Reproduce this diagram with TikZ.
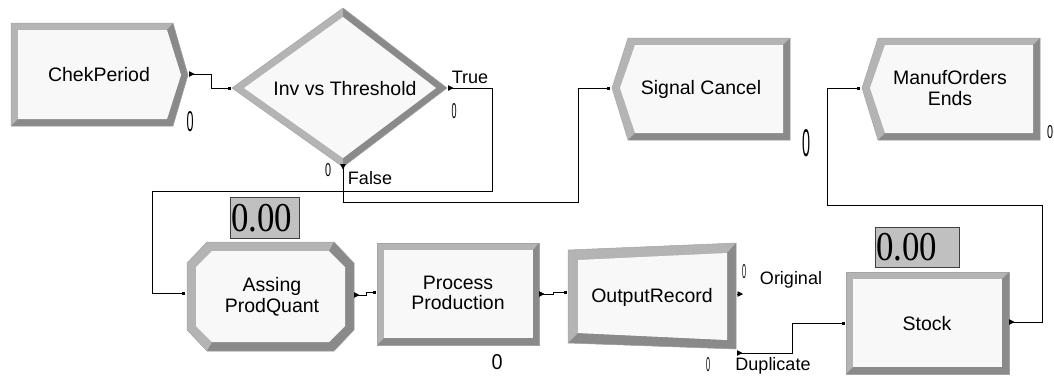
\documentclass[tikz,border=0pt]{standalone}
\usepackage{fontspec}
\usepackage{graphicx}
\setmainfont{Liberation Sans}
\newfontfamily\countfont{Liberation Serif}
\usetikzlibrary{arrows.meta}

\definecolor{bevlight}{HTML}{B4B4B4}
\definecolor{bevdark}{HTML}{8A8A8A}
\definecolor{modface}{HTML}{F8F8F8}
\definecolor{modrim}{HTML}{A4A4A4}
\definecolor{countfill}{HTML}{C0C0C0}
\definecolor{countrim}{HTML}{404040}

% #1 outer outline, #2 shaded (lower/right) bevel, #3 face
\newcommand\bevelmodule[3]{%
  \fill[bevlight] #1;
  \fill[bevdark] #2;
  \fill[modface] #3;
  \draw[modrim, line width=0.5pt] #1;
}
\newcommand\slimzero[2]{\resizebox{#1}{#2}{0}}

\begin{document}
\begin{tikzpicture}[x=1pt, y=-1pt,
  modtext/.style={font=\fontsize{19.5}{20.5}\selectfont, align=center, inner sep=0pt},
  porttext/.style={font=\fontsize{18}{18}\selectfont, inner sep=0pt},
  zerotext/.style={inner sep=0pt},
  conn/.style={line width=0.9pt, black,
    {Triangle[reversed, length=5.5pt, width=5.5pt]}-{Square[length=3pt, width=3pt]}},
  portarrow/.style={line width=0.9pt, black, -{Triangle[length=5.5pt, width=5.5pt]}},
  counterbox/.style={draw=countrim, fill=countfill, line width=0.8pt, inner sep=0pt},
  countertext/.style={font=\countfont\fontsize{41}{41}\selectfont, inner sep=0pt}
]
\useasboundingbox (0,0) rectangle (1054,376);

% ---- ChekPeriod (create) ----
\bevelmodule
  {(11,23) -- (173,23) -- (188,75) -- (173,126) -- (11,126) -- cycle}
  {(173,23) -- (188,75) -- (173,126) -- (11,126) -- (18,119) -- (167,119) -- (181,75) -- (167,30) -- cycle}
  {(18,30) -- (167,30) -- (181,75) -- (167,119) -- (18,119) -- cycle}
\node[modtext] (chek) at (99,75) {ChekPeriod};
\coordinate (chek-out) at (189,74);
\node[zerotext] (chek-count) at (190,122) {\slimzero{7pt}{20pt}};

% ---- Inv vs Threshold (decide) ----
\bevelmodule
  {(232,88) -- (343,8) -- (447,88) -- (343,167) -- cycle}
  {(343,8) -- (447,88) -- (343,167) -- (343,158) -- (436,88) -- (343,17) -- cycle}
  {(244,88) -- (343,17) -- (436,88) -- (343,158) -- cycle}
\node[modtext] (inv) at (345,89) {Inv vs Threshold};
\coordinate (inv-in) at (231,88);
\coordinate (inv-true) at (448,88);
\coordinate (inv-false) at (343,164);
\node[porttext] (true-lbl) at (470,77) {True};
\node[porttext] (false-lbl) at (370,178) {False};
\node[zerotext] (true-count) at (454,111) {\slimzero{5pt}{15pt}};
\node[zerotext] (false-count) at (328,170) {\slimzero{6pt}{13pt}};

% ---- Signal Cancel (dispose) ----
\bevelmodule
  {(612,88) -- (628,38) -- (790,38) -- (790,140) -- (628,140) -- cycle}
  {(790,38) -- (790,140) -- (628,140) -- (635,133) -- (783,133) -- (783,45) -- cycle}
  {(620,88) -- (635,45) -- (783,45) -- (783,133) -- (635,133) -- cycle}
\node[modtext] (sig) at (701,89) {Signal Cancel};
\coordinate (sig-in) at (610,88);
\node[zerotext] (sig-count) at (806,143) {\slimzero{8pt}{27pt}};

% ---- ManufOrders Ends (dispose) ----
\bevelmodule
  {(862,88) -- (878,38) -- (1040,38) -- (1040,140) -- (878,140) -- cycle}
  {(1040,38) -- (1040,140) -- (878,140) -- (885,133) -- (1033,133) -- (1033,45) -- cycle}
  {(870,88) -- (885,45) -- (1033,45) -- (1033,133) -- (885,133) -- cycle}
\node[modtext] (mfg) at (950,88) {ManufOrders\\Ends};
\coordinate (mfg-in) at (860,88);
\node[zerotext] (mfg-count) at (1050,132) {\slimzero{6pt}{13pt}};

% ---- Assing ProdQuant (assign) ----
\bevelmodule
  {(207,242) -- (334,242) -- (354,263) -- (354,330) -- (334,351) -- (207,351) -- (187,330) -- (187,263) -- cycle}
  {(334,242) -- (354,263) -- (354,330) -- (334,351) -- (207,351) -- (212,342) -- (329,342) -- (345,326) -- (345,267) -- (329,251) -- cycle}
  {(212,251) -- (329,251) -- (345,267) -- (345,326) -- (329,342) -- (212,342) -- (196,326) -- (196,267) -- cycle}
\node[modtext] (asg) at (272,297) {Assing\\ProdQuant};
\coordinate (asg-in) at (185,293);
\coordinate (asg-out) at (354,295);
\node[counterbox, minimum width=69pt, minimum height=41pt, anchor=north west] (asg-box) at (230,197) {};
\node[countertext, anchor=west] (asg-val) at ([xshift=1pt]asg-box.west) {\scalebox{0.85}[1]{0.00}};

% ---- Process Production (process) ----
\bevelmodule
  {(377,243) -- (539,243) -- (539,345) -- (377,345) -- cycle}
  {(539,243) -- (539,345) -- (377,345) -- (384,338) -- (533,338) -- (533,250) -- cycle}
  {(384,250) -- (533,250) -- (533,338) -- (384,338) -- cycle}
\node[modtext] (proc) at (458,293) {Process\\Production};
\coordinate (proc-in) at (376,292);
\coordinate (proc-out) at (539,294);
\node[zerotext] (proc-count) at (497,362) {\slimzero{11pt}{15pt}};

% ---- OutputRecord (separate) ----
\bevelmodule
  {(568,250) -- (736,243) -- (736,349) -- (568,343) -- cycle}
  {(736,243) -- (736,349) -- (568,343) -- (578,333) -- (727,340) -- (727,253) -- cycle}
  {(578,260) -- (727,253) -- (727,340) -- (578,333) -- cycle}
\node[modtext] (rec) at (652,297) {OutputRecord};
\coordinate (rec-in) at (567,292);
\coordinate (rec-orig) at (737,294);
\coordinate (rec-dup) at (737,353);
\node[porttext] (orig-lbl) at (791,280) {Original};
\node[porttext] (dup-lbl) at (773,366) {Duplicate};
\node[zerotext] (orig-count) at (744,272) {\slimzero{4pt}{14pt}};
\node[zerotext] (dup-count) at (708,365) {\slimzero{4pt}{14pt}};

% ---- Stock (process) ----
\bevelmodule
  {(846,272) -- (1009,272) -- (1009,374) -- (846,374) -- cycle}
  {(1009,272) -- (1009,374) -- (846,374) -- (853,367) -- (1002,367) -- (1002,279) -- cycle}
  {(853,279) -- (1002,279) -- (1002,367) -- (853,367) -- cycle}
\node[modtext] (stock) at (927,324) {Stock};
\coordinate (stock-in) at (845,323);
\coordinate (stock-out) at (1009,322);
\node[counterbox, minimum width=84pt, minimum height=40pt, anchor=north west] (stock-box) at (875,227) {};
\node[countertext, anchor=west] (stock-val) at ([xshift=1pt]stock-box.west) {\scalebox{0.85}[1]{0.00}};

% ---- connectors ----
\draw[conn] (chek-out) -- ++(22,0) |- (inv-in);
\draw[conn] (inv-true) -- ++(44,0) -- ++(0,103) -| ([xshift=-33pt]asg-in) -- (asg-in);
\draw[conn] (inv-false) -- ++(0,38) -| ([xshift=-32pt]sig-in) -- (sig-in);
\draw[conn] (asg-out) -- ++(12,0) |- (proc-in);
\draw[conn] (proc-out) -- ++(14,0) |- (rec-in);
\draw[portarrow] (rec-orig) -- ++(6,0);
\draw[conn] (rec-dup) -- ++(55,0) |- (stock-in);
\draw[conn] (stock-out) -- ++(33,0) -- ++(0,-117) -| ([xshift=-33pt]mfg-in) -- (mfg-in);
\end{tikzpicture}
\end{document}
